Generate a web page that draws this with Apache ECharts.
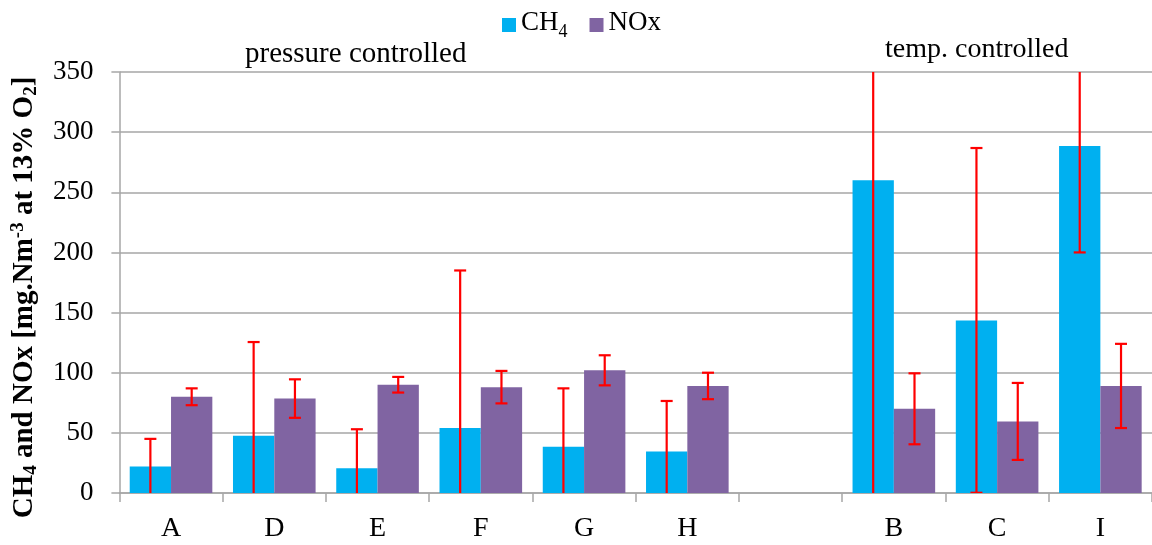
<!DOCTYPE html>
<html>
<head>
<meta charset="utf-8">
<script src="https://cdn.jsdelivr.net/npm/echarts@6/dist/echarts.min.js"></script>
<style>
  html, body { margin: 0; padding: 0; background: #fff; }
  #chart { width: 1152px; height: 545px; }
</style>
</head>
<body>
<div id="chart"></div>
<script>
// categories (empty slot separates the two groups)
const categories = ['A', 'D', 'E', 'F', 'G', 'H', '', 'B', 'C', 'I']
// mean values
const ch4Values = [22, 47.5, 20.5, 54, 38.5, 34.5, null, 260, 143.5, 288.5]
const noxValues = [80, 78.5, 90, 88, 102, 89, null, 70, 59.5, 89]
// symmetric error (+/-)
const ch4Errors = [23, 78, 32.5, 131, 48.5, 42, null, 270, 143.3, 88.5]
const noxErrors = [7, 16, 6.5, 13.5, 12.5, 11, null, 29.5, 32, 35]
const yTicks = { min: 0, max: 350, interval: 50 }

const FONT = '"Liberation Serif", "Times New Roman", serif'
const CH4_COLOR = '#00B0F0'
const NOX_COLOR = '#8064A2'
const AXIS_GRAY = '#A6A6A6'

// 误差线数据 [categoryIndex, value, err]
function errData(values, errors) {
  return values.map((v, i) => (v == null ? null : [i, v, errors[i]])).filter(d => d)
}

// 误差线绘制, offset 为柱子中心相对于类目中心的比例
function makeErrRender(offset) {
  return function (params, api) {
    const idx = api.value(0)
    const val = api.value(1)
    const err = api.value(2)
    const catW = api.size([1, 0])[0]
    const top = api.coord([idx, val + err])
    const bot = api.coord([idx, val - err])
    const x = top[0] + offset * catW
    const cap = 6
    const style = { stroke: '#FF0000', lineWidth: 2.2 }
    return {
      type: 'group',
      children: [
        { type: 'line', shape: { x1: x, y1: top[1], x2: x, y2: bot[1] }, style },
        { type: 'line', shape: { x1: x - cap, y1: top[1], x2: x + cap, y2: top[1] }, style },
        { type: 'line', shape: { x1: x - cap, y1: bot[1], x2: x + cap, y2: bot[1] }, style }
      ]
    }
  }
}

const chart = echarts.init(document.getElementById('chart'))

const option = {
  animation: false,
  textStyle: { fontFamily: FONT },
  legend: {
    top: 4,
    left: 497,
    itemWidth: 14,
    itemHeight: 14,
    itemGap: 22,
    itemTextGap: 5,
    icon: 'rect',
    data: ['CH4', 'NOx'],
    formatter: function (name) {
      if (name === 'CH4') return '{n|CH}{s|4}'
      return '{n|' + name + '}'
    },
    textStyle: {
      fontFamily: FONT,
      color: '#000',
      rich: {
        n: { fontFamily: FONT, fontSize: 27, color: '#000', verticalAlign: 'top', lineHeight: 32 },
        s: { fontFamily: FONT, fontSize: 18, color: '#000', verticalAlign: 'bottom', lineHeight: 32, padding: [14, 0, 0, 0] }
      }
    }
  },
  grid: {
    left: 118,
    top: 72,
    bottom: 52,
    width: 1037,
    containLabel: false
  },
  graphic: [
    {
      type: 'text',
      left: 245,
      top: 40,
      style: { text: 'pressure controlled', font: '29px ' + FONT, fill: '#000' }
    },
    {
      type: 'text',
      left: 885,
      top: 36,
      style: { text: 'temp. controlled', font: '28px ' + FONT, fill: '#000' }
    }
  ],
  xAxis: {
    type: 'category',
    data: categories,
    axisLine: { lineStyle: { color: AXIS_GRAY, width: 1.5 } },
    axisTick: { show: true, length: 9, lineStyle: { color: AXIS_GRAY, width: 1.5 } },
    axisLabel: { color: '#000', fontFamily: FONT, fontSize: 28, margin: 22 }
  },
  yAxis: {
    type: 'value',
    min: yTicks.min,
    max: yTicks.max,
    interval: yTicks.interval,
    name: '{b|CH}{bs|4}{b| and NOx [mg.Nm}{bp|-3}{b| at 13% O}{bs|2}{b|]}',
    nameLocation: 'middle',
    nameRotate: 90,
    nameGap: 74,
    nameTextStyle: {
      padding: [0, 30, 0, 0],
      rich: {
        b: { fontFamily: FONT, fontSize: 29, fontWeight: 'bold', color: '#000', lineHeight: 32 },
        bs: { fontFamily: FONT, fontSize: 19, fontWeight: 'bold', color: '#000', lineHeight: 32, verticalAlign: 'bottom', padding: [14, 0, 0, 0] },
        bp: { fontFamily: FONT, fontSize: 19, fontWeight: 'bold', color: '#000', lineHeight: 32, verticalAlign: 'top', padding: [0, 0, 14, 0] }
      }
    },
    axisLine: { show: true, lineStyle: { color: AXIS_GRAY, width: 1.5 } },
    axisTick: { show: true, length: 8, lineStyle: { color: AXIS_GRAY, width: 1.5 } },
    axisLabel: { color: '#000', fontFamily: FONT, fontSize: 27, margin: 26 },
    splitLine: { lineStyle: { color: AXIS_GRAY, width: 1.5 } }
  },
  series: [
    {
      name: 'CH4',
      type: 'bar',
      data: ch4Values,
      barGap: 0,
      barCategoryGap: '20%',
      itemStyle: { color: CH4_COLOR }
    },
    {
      name: 'NOx',
      type: 'bar',
      data: noxValues,
      barGap: 0,
      barCategoryGap: '20%',
      itemStyle: { color: NOX_COLOR }
    },
    {
      type: 'custom',
      name: 'CH4 err',
      renderItem: makeErrRender(-0.2),
      data: errData(ch4Values, ch4Errors),
      encode: { x: 0, y: 1 },
      clip: true,
      z: 10
    },
    {
      type: 'custom',
      name: 'NOx err',
      renderItem: makeErrRender(0.2),
      data: errData(noxValues, noxErrors),
      encode: { x: 0, y: 1 },
      clip: true,
      z: 10
    }
  ]
}

chart.setOption(option)
</script>
</body>
</html>
